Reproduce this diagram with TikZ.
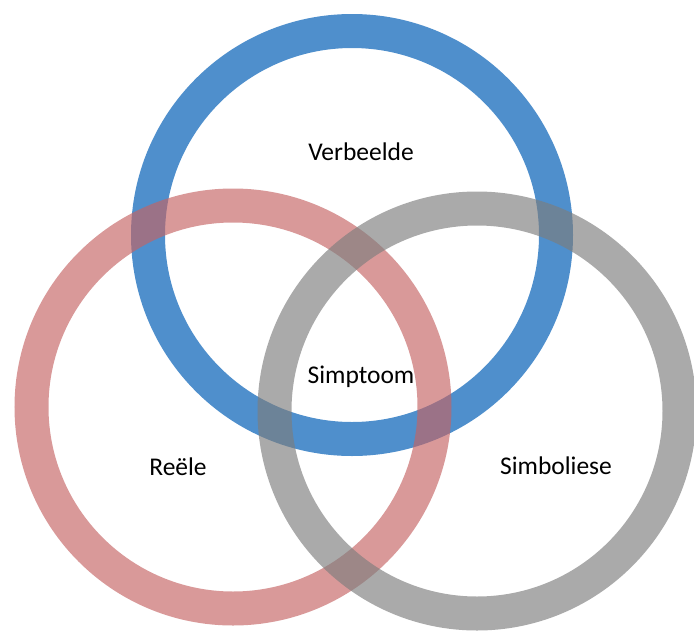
\documentclass[tikz,border=0pt]{standalone}
\usepackage{fontspec}
\setmainfont{Carlito}
\definecolor{ringblue}{rgb}{0.31,0.56,0.80}
\definecolor{ringred}{rgb}{0.77,0.39,0.39}
\definecolor{ringgray}{rgb}{0.49,0.49,0.49}
\tikzset{
  ring/.style={line width=34pt, draw opacity=#1},
  ringtext/.style={font=\fontsize{25.5}{30}\selectfont, text=black, inner sep=0pt}
}
\begin{document}
\begin{tikzpicture}[x=1pt,y=-1pt]
    \useasboundingbox (0,0) rectangle (694,630);

    % Ring centres
    \coordinate (cblue) at (352,235);
    \coordinate (cred) at (233,407);
    \coordinate (cgray) at (477,411);

    % Rings
    \draw[ring=1, ringblue] (cblue) circle[radius=204pt];
    \draw[ring=0.65, ringred] (cred) circle[radius=201.5pt];
    \draw[ring=0.65, ringgray] (cgray) circle[radius=202.5pt];

    % Labels
    \node[ringtext] (verbeelde) at (361,152) {Verbeelde};
    \node[ringtext] (simptoom) at (361,377) {Simptoom};
    \node[ringtext] (reele) at (178,467) {Reële};
    \node[ringtext] (simboliese) at (556,466) {Simboliese};
\end{tikzpicture}
\end{document}
